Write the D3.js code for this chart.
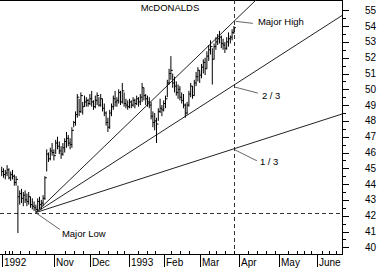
<!DOCTYPE html>
<html><head><meta charset="utf-8">
<script src="https://cdn.jsdelivr.net/npm/d3@7"></script>
<style>
html,body{margin:0;padding:0;background:#fff;}
svg{display:block;}
text{font-family:"Liberation Sans",Arial,sans-serif;font-size:10px;fill:#000;}
text.ann{font-size:9.5px;}
</style></head>
<body>
<script>
// ---- data ----
const highs = [45.1,45.0,44.9,45.2,45.0,44.8,44.9,44.6,44.5,43.9,43.6,43.7,43.5,43.6,43.4,43.5,43.2,43.1,42.9,42.7,
  43.1,43.2,43.0,43.3,44.5,46.2,46.0,46.3,46.6,46.2,46.8,47.0,46.7,46.4,46.6,46.9,47.3,47.1,46.9,47.6,
  48.0,48.6,49.7,49.4,49.8,49.2,49.6,49.5,49.4,49.7,49.9,49.3,49.6,49.8,49.5,49.7,49.4,49.1,48.6,48.2,
  48.7,49.1,49.6,49.9,49.5,50.0,49.9,50.4,49.8,49.4,49.3,49.4,49.3,49.5,49.4,49.6,49.5,49.7,50.4,50.1,
  49.7,49.6,49.5,49.2,48.6,48.5,48.2,48.8,49.4,49.0,49.3,49.6,50.6,51.3,52.1,51.0,50.8,50.5,50.3,50.2,
  49.8,49.7,49.1,49.2,49.9,50.4,50.2,50.6,51.1,51.4,51.2,51.6,51.9,52.0,52.4,52.8,53.1,52.6,52.9,53.3,
  53.5,53.7,53.4,53.2,53.0,53.3,53.6,53.4,53.8,54.0];
const lows = [44.5,44.4,44.3,44.5,44.3,44.2,44.3,43.9,43.9,40.9,42.7,42.8,42.6,42.8,42.6,42.7,42.5,42.4,42.3,42.2,
  42.3,42.4,42.4,42.6,43.0,44.8,45.4,45.5,45.8,45.5,45.9,46.2,45.9,45.6,45.8,46.0,46.3,46.4,46.2,46.3,
  47.6,47.7,48.2,48.3,48.5,48.4,48.9,48.9,48.9,49.0,48.9,48.7,48.8,49.0,48.9,48.9,48.6,48.3,47.7,47.3,
  47.5,48.3,48.7,48.9,48.9,49.1,49.0,49.1,48.9,48.8,48.7,48.8,48.8,48.9,48.8,49.0,48.9,49.0,49.2,49.3,
  49.0,48.9,48.8,48.1,47.6,47.4,46.6,48.0,48.5,48.3,48.6,48.8,49.5,50.3,50.6,50.1,49.8,49.6,49.4,49.3,
  49.1,48.8,48.2,48.4,48.9,49.5,49.4,49.6,50.2,50.5,50.4,50.7,51.0,50.9,51.3,51.8,52.2,50.3,51.9,52.5,
  52.8,52.9,52.6,52.5,52.3,52.5,52.7,52.9,53.1,53.5];
const closes = [44.8,44.6,44.7,44.9,44.4,44.6,44.5,44.1,44.3,43.2,43.4,43.1,43.3,43.0,42.9,43.2,42.7,42.6,42.5,42.4,
  42.9,42.7,42.8,43.1,44.4,45.9,45.6,46.1,46.0,45.8,46.6,46.4,46.1,45.9,46.3,46.7,46.9,46.6,46.5,47.4,
  47.9,48.4,49.5,48.6,49.6,48.9,49.2,49.3,49.1,49.4,49.2,48.9,49.3,49.6,49.0,49.4,48.8,48.5,47.9,47.6,
  48.5,48.9,49.4,49.2,49.3,49.8,49.2,49.9,49.1,49.0,48.9,49.2,49.0,49.3,49.1,49.4,49.2,49.5,50.1,49.6,
  49.4,49.2,49.0,48.3,47.9,48.0,47.8,48.6,48.8,48.7,49.1,49.4,50.4,51.0,51.2,50.4,50.2,49.8,50.0,49.5,
  49.3,49.0,48.5,49.0,49.7,50.2,49.6,50.4,50.8,51.2,50.9,51.4,51.7,51.3,52.1,52.5,52.7,51.9,52.7,53.0,
  53.2,53.3,52.9,52.8,52.6,53.0,53.2,53.3,53.6,53.9];
const monthLabels = ["1992","Nov","Dec","1993","Feb","Mar","Apr","May","June"];
const monthIdx = [0,29,49,71,90,110,132,154,175];
const weekIdx = [2,4,6,10,15,19,24,35,40,45,54,59,64,68,76,81,85,94,99,104,115,119,124,129,137,142,147,152,159,164,168,172,178,182,186,189];
const yTicks = [40,41,42,43,44,45,46,47,48,49,50,51,52,53,54,55];
const majorLow = {i:19, p:42.2};
const majorHigh = {i:129, p:54.3};
const fanFractions = [1, 2/3, 1/3];
const fanLabels = ["Major High","2 / 3","1 / 3"];
const title = "McDONALDS";

// ---- layout ----
const W=380,H=268, plotR=342, plotB=254;
const x = d3.scaleLinear().domain([0,189]).range([1.7,341.9]);
const y = d3.scaleLinear().domain([40,55]).range([247.3,10.3]);

const svg = d3.select("body").append("svg").attr("width",W).attr("height",H);
svg.append("defs").append("clipPath").attr("id","clip")
  .append("rect").attr("x",0).attr("y",0).attr("width",plotR).attr("height",plotB);

// frame
svg.append("line").attr("x1",0).attr("x2",plotR).attr("y1",0.5).attr("y2",0.5).attr("stroke","#000");

// title
svg.append("text").attr("class","ann").attr("x",170).attr("y",11).attr("text-anchor","middle").text(title);

// dashed reference lines
const g = svg.append("g").attr("clip-path","url(#clip)");
g.append("line").attr("x1",0).attr("x2",plotR)
  .attr("y1",Math.round(y(majorLow.p))+0.5).attr("y2",Math.round(y(majorLow.p))+0.5)
  .attr("stroke","#333").attr("stroke-dasharray","4,3");
g.append("line").attr("x1",Math.round(x(majorHigh.i))+0.5).attr("x2",Math.round(x(majorHigh.i))+0.5)
  .attr("y1",0).attr("y2",plotB).attr("stroke","#333").attr("stroke-dasharray","4,3");

// fan lines
const ext = 400;
fanFractions.forEach(f=>{
  const p1 = majorLow.p + (majorHigh.p-majorLow.p)*f;
  const slope = (p1-majorLow.p)/(majorHigh.i-majorLow.i);
  g.append("line")
    .attr("x1",x(majorLow.i)).attr("y1",y(majorLow.p))
    .attr("x2",x(ext)).attr("y2",y(majorLow.p+slope*(ext-majorLow.i)))
    .attr("stroke","#222").attr("stroke-width",1);
});

// bars
const bars = g.append("g");
highs.forEach((h,i)=>{
  bars.append("line").attr("x1",x(i)).attr("x2",x(i)).attr("y1",y(h)).attr("y2",y(lows[i]))
    .attr("stroke","#000").attr("stroke-width",1);
  bars.append("line").attr("x1",x(i)).attr("x2",x(i)+2).attr("y1",y(closes[i])).attr("y2",y(closes[i]))
    .attr("stroke","#000").attr("stroke-width",1);
});

// annotations
const ann = svg.append("g");
fanFractions.forEach((f,k)=>{
  const p = majorLow.p + (majorHigh.p-majorLow.p)*f;
  const ax = x(majorHigh.i), ay = y(p);
  const offs = [[2,0,19,2,24,3.5],[1,2,24,8,28,14],[1,1,23,12,26,16]][k];
  ann.append("line").attr("x1",ax+offs[0]).attr("y1",ay+offs[1]).attr("x2",ax+offs[2]).attr("y2",ay+offs[3])
    .attr("stroke","#666");
  ann.append("text").attr("class","ann").attr("x",ax+offs[4]).attr("y",ay+offs[5]).text(fanLabels[k]);
});
{
  const ax=x(majorLow.i), ay=y(majorLow.p);
  ann.append("line").attr("x1",ax+1).attr("y1",ay+1).attr("x2",ax+24).attr("y2",ay+17).attr("stroke","#666");
  ann.append("text").attr("class","ann").attr("x",ax+26).attr("y",ay+24.5).text("Major Low");
}

// right axis
const ra = svg.append("g");
ra.append("line").attr("x1",plotR+0.5).attr("x2",plotR+0.5).attr("y1",0).attr("y2",plotB).attr("stroke","#000");
yTicks.forEach(t=>{
  const yy=Math.round(y(t))+0.5;
  ra.append("line").attr("x1",plotR).attr("x2",plotR+7).attr("y1",yy).attr("y2",yy).attr("stroke","#000");
  ra.append("text").attr("x",365).attr("y",y(t)+3.5).text(t);
  if(t<55){
    const ym=Math.round(y(t+0.5))+0.5;
    ra.append("line").attr("x1",plotR).attr("x2",plotR+4).attr("y1",ym).attr("y2",ym).attr("stroke","#000");
  }
});

// bottom axis
const ba = svg.append("g");
ba.append("line").attr("x1",0).attr("x2",plotR+1).attr("y1",plotB+0.5).attr("y2",plotB+0.5).attr("stroke","#000");
weekIdx.forEach(i=>{
  const xx=Math.round(x(i))+0.5;
  ba.append("line").attr("x1",xx).attr("x2",xx).attr("y1",plotB-3).attr("y2",plotB).attr("stroke","#000");
});
monthIdx.forEach((i,k)=>{
  const xx=Math.round(x(i))+0.5;
  ba.append("line").attr("x1",xx).attr("x2",xx).attr("y1",plotB).attr("y2",plotB+13).attr("stroke","#000");
  ba.append("text").attr("x",xx+1.5).attr("y",266).text(monthLabels[k]);
});
</script>
</body></html>
